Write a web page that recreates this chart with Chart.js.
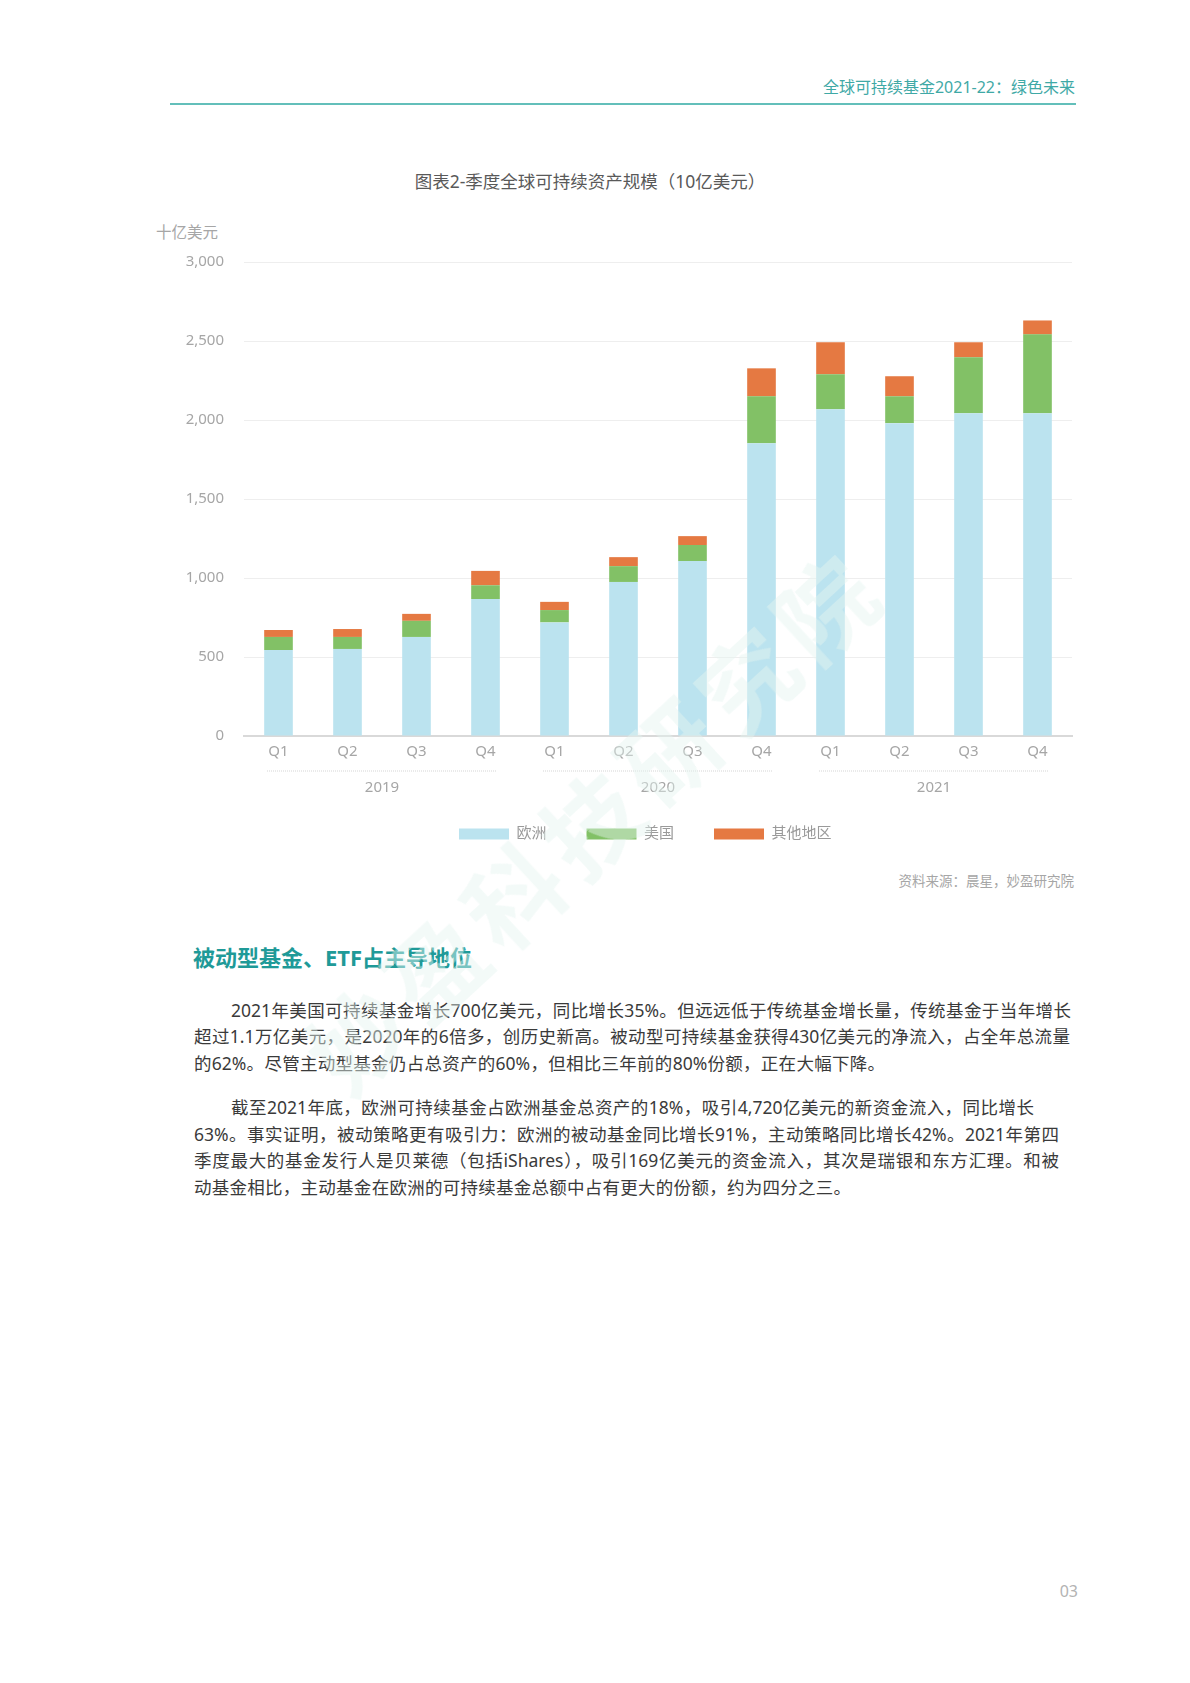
<!DOCTYPE html>
<html lang="zh-CN">
<head>
<meta charset="utf-8">
<title>全球可持续基金2021-22：绿色未来</title>
<script src="https://cdn.jsdelivr.net/npm/chart.js@4.4.1/dist/chart.umd.min.js"></script>
<style>
  html, body { margin: 0; padding: 0; background: #fff; }
  body {
    width: 1190px; height: 1683px; position: relative; overflow: hidden;
    font-family: 'Noto Sans', 'Noto Sans CJK SC', sans-serif;
  }
  .cabecera { position: absolute; right: 115px; top: 75px; font-size: 16px; line-height: 24px; color: #3fa9a6; }
  .linea { position: absolute; left: 170px; top: 103px; width: 906px; height: 2px; background: #63bfba; }
  .titulo { position: absolute; left: 290px; top: 169px; width: 600px; text-align: center; font-size: 17.5px; line-height: 24px; color: #595959; }
  .unidad { position: absolute; left: 156px; top: 222px; font-size: 15.5px; line-height: 20px; color: #a6a6a6; }
  #grafico { position: absolute; left: 140px; top: 200px; }
  .fuente { position: absolute; right: 116px; top: 871px; font-size: 13.5px; line-height: 20px; color: #a6a6a6; }
  .subtitulo { position: absolute; left: 193px; top: 942px; font-size: 22px; line-height: 30px; font-weight: bold; color: #1f9a98; }
  .parrafo { position: absolute; left: 194px; font-size: 17.5px; line-height: 26.8px; color: #3a3a3a; }
  .parrafo div { white-space: nowrap; text-align: justify; text-align-last: justify; }
  .pagina { position: absolute; right: 112px; top: 1580px; font-size: 16px; line-height: 22px; color: #b3b3b3; }
  .marca {
    position: absolute; left: 195px; top: 766px; width: 800px; height: 110px;
    text-align: center; font-size: 96px; line-height: 110px; font-weight: bold; letter-spacing: 10px;
    color: rgba(228, 245, 240, 0.45); transform: rotate(-42.7deg); pointer-events: none; white-space: nowrap;
  }
</style>
</head>
<body>
<div class="cabecera">全球可持续基金2021-22：绿色未来</div>
<div class="linea"></div>
<div class="titulo">图表2-季度全球可持续资产规模（10亿美元）</div>
<div class="unidad">十亿美元</div>
<canvas id="grafico" width="950" height="671"></canvas>
<div class="fuente">资料来源：晨星，妙盈研究院</div>

<div class="subtitulo">被动型基金、ETF占主导地位</div>
<div class="parrafo" style="top:996.6px">
  <div style="width:877px; padding-left:37px; box-sizing:border-box">2021年美国可持续基金增长700亿美元，同比增长35%。但远远低于传统基金增长量，传统基金于当年增长</div>
  <div style="width:876px">超过1.1万亿美元，是2020年的6倍多，创历史新高。被动型可持续基金获得430亿美元的净流入，占全年总流量</div>
  <div style="width:691px">的62%。尽管主动型基金仍占总资产的60%，但相比三年前的80%份额，正在大幅下降。</div>
</div>
<div class="parrafo" style="top:1093.9px">
  <div style="width:840px; padding-left:37px; box-sizing:border-box">截至2021年底，欧洲可持续基金占欧洲基金总资产的18%，吸引4,720亿美元的新资金流入，同比增长</div>
  <div style="width:865px">63%。事实证明，被动策略更有吸引力：欧洲的被动基金同比增长91%，主动策略同比增长42%。2021年第四</div>
  <div style="width:865px">季度最大的基金发行人是贝莱德（包括iShares），吸引169亿美元的资金流入，其次是瑞银和东方汇理。和被</div>
  <div style="width:657px">动基金相比，主动基金在欧洲的可持续基金总额中占有更大的份额，约为四分之三。</div>
</div>
<div class="pagina">03</div>
<div class="marca">妙盈科技研究院</div>

<script>
// datos (10亿美元)
const trimestres = ['Q1', 'Q2', 'Q3', 'Q4', 'Q1', 'Q2', 'Q3', 'Q4', 'Q1', 'Q2', 'Q3', 'Q4'];
const anios = ['2019', '2020', '2021'];
const europa = [544, 551, 627, 867, 719, 975, 1107, 1853, 2068, 1980, 2043, 2043];
const estadosUnidos = [83, 76, 102, 87, 78, 100, 102, 297, 222, 170, 354, 499];
const otrasRegiones = [44, 50, 44, 91, 52, 57, 56, 177, 202, 127, 95, 88];
const ticksY = [0, 500, 1000, 1500, 2000, 2500, 3000];

const fuente = "'Noto Sans', 'Noto Sans CJK SC', sans-serif";
const gris = '#a6a6a6';
Chart.defaults.font.family = fuente;

// lineas punteadas bajo cada año y ajuste del legend
const separadores = {
    id: 'separadores',
    afterLayout(chart) {
        const legend = chart.legend;
        legend.left += 78.5;
        legend.top -= 10.5;
        legend.bottom -= 10.5;
    },
    afterDraw(chart) {
        const x = chart.scales.x;
        const y = chart.scales.anio.top + 10;
        const ancho = x.width / trimestres.length;
        const c = chart.ctx;
        c.save();
        c.strokeStyle = '#e3e3e3';
        c.lineWidth = 1.5;
        c.setLineDash([1, 1]);
        anios.forEach((anio, i) => {
            const ini = x.getPixelForValue(i * 4) - ancho / 2 + 23;
            const fin = x.getPixelForValue(i * 4 + 3) + ancho / 2 - 23;
            c.beginPath();
            c.moveTo(ini, y);
            c.lineTo(fin, y);
            c.stroke();
        });
        c.restore();
    }
};

const chartDom = document.querySelector('#grafico');

const config = {
    type: 'bar',
    data: {
        labels: trimestres,
        datasets: [
            { label: '欧洲', data: europa, backgroundColor: '#bbe3ef' },
            { label: '美国', data: estadosUnidos, backgroundColor: '#82c166' },
            { label: '其他地区', data: otrasRegiones, backgroundColor: '#e57942' }
        ]
    },
    options: {
        responsive: false,
        animation: false,
        devicePixelRatio: 1,
        layout: { padding: { top: 62, right: 18, bottom: 9, left: 0 } },
        datasets: { bar: { categoryPercentage: 1, barPercentage: 0.415, borderWidth: 0 } },
        plugins: {
            legend: {
                position: 'bottom',
                labels: { boxWidth: 50, boxHeight: 11, padding: 40, color: '#9a9a9a', font: { size: 15 } }
            },
            tooltip: { enabled: false }
        },
        scales: {
            x: {
                stacked: true,
                weight: 0,
                grid: { display: false, drawTicks: false },
                border: { color: '#d9d9d9', width: 2 },
                ticks: { color: gris, font: { size: 15 }, padding: 7 },
                afterFit: (s) => { s.height = 25 }
            },
            anio: {
                type: 'category',
                labels: anios,
                position: 'bottom',
                offset: true,
                weight: 1,
                grid: { display: false, drawTicks: false },
                border: { display: false },
                ticks: { color: gris, font: { size: 15 }, padding: 18 },
                afterFit: (s) => { s.height = 36 }
            },
            y: {
                stacked: true,
                min: 0,
                max: 3000,
                grid: { color: '#eeeeee', lineWidth: 1, drawTicks: false },
                border: { display: false },
                ticks: {
                    stepSize: 500,
                    padding: 20,
                    color: gris,
                    font: { size: 15 },
                    callback: (v) => ticksY.includes(v) ? v.toLocaleString('en-US') : ''
                },
                afterFit: (s) => { s.width = 104 }
            }
        }
    },
    plugins: [separadores]
};

const chartInstance = new Chart(chartDom, config);
</script>
</body>
</html>
